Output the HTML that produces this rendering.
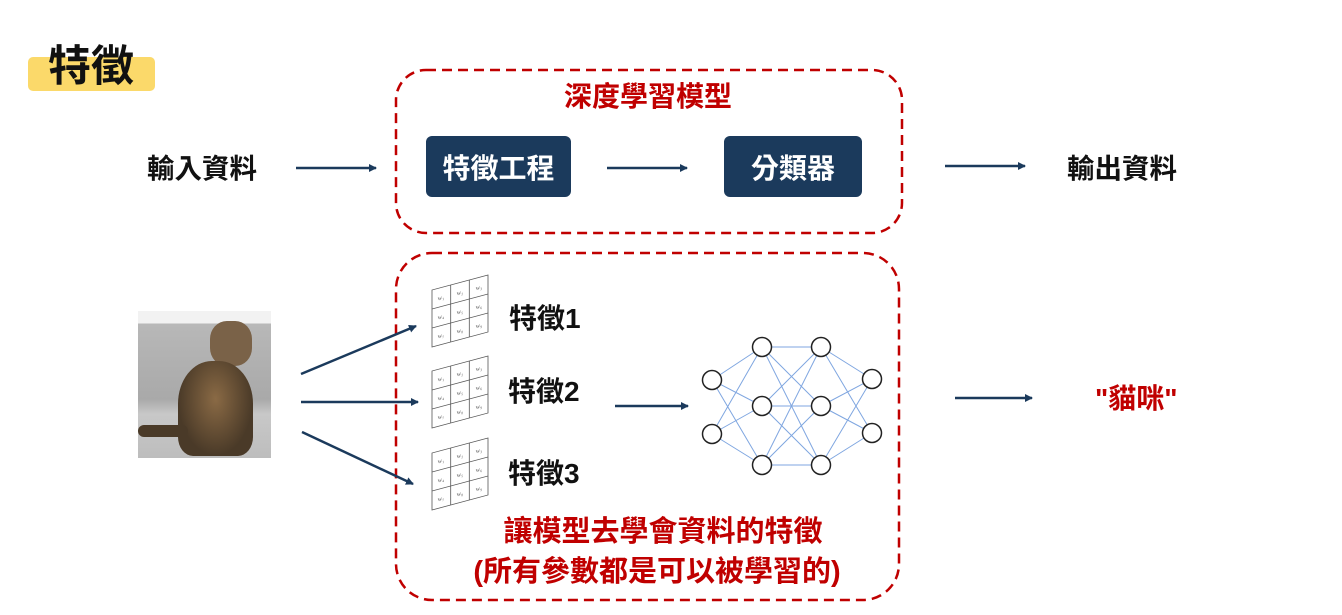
<!DOCTYPE html>
<html><head><meta charset="utf-8"><style>
body{margin:0;width:1342px;height:615px;background:#fff;position:relative;overflow:hidden;font-family:"Liberation Sans","Noto Sans CJK TC",sans-serif}
.t{position:absolute;font-weight:bold;white-space:nowrap;line-height:1}
.c{transform:translateX(-50%)}
.box{position:absolute;background:#1b3a5c;color:#fff;border-radius:6px;font-weight:bold;font-size:28px;display:flex;align-items:center;justify-content:center}
</style></head><body>
<div style="position:absolute;left:28px;top:57px;width:127px;height:34px;background:#fbd96a;border-radius:5px"></div>
<div class="t" style="left:48px;top:46px;font-size:43px;color:#111">特徵</div>
<div class="t c" style="left:648px;top:83px;font-size:28px;color:#c00000">深度學習模型</div>
<div class="t" style="left:147px;top:155px;font-size:27.5px;color:#111">輸入資料</div>
<div class="t" style="left:1067px;top:155px;font-size:27.5px;color:#111">輸出資料</div>
<div class="box" style="left:426px;top:136px;width:145px;height:61px">特徵工程</div>
<div class="box" style="left:724px;top:136px;width:138px;height:61px">分類器</div>
<div class="t" style="left:509px;top:305px;font-size:28px;color:#111">特徵1</div>
<div class="t" style="left:508px;top:378px;font-size:28px;color:#111">特徵2</div>
<div class="t" style="left:508px;top:460px;font-size:28px;color:#111">特徵3</div>
<div class="t" style="left:1095px;top:385px;font-size:28px;color:#c00000">"貓咪"</div>
<div class="t c" style="left:663px;top:518px;font-size:29px;color:#c00000">讓模型去學會資料的特徵</div>
<div class="t c" style="left:657px;top:558px;font-size:29px;color:#c00000">(所有參數都是可以被學習的)</div>
<div style="position:absolute;left:138px;top:311px;width:133px;height:147px;background:linear-gradient(180deg,#f2f2f2 0,#f2f2f2 8%,#b8b8b8 9%,#a9a9a9 60%,#c8c8c8 70%,#bdbdbd 100%)">
<div style="position:absolute;left:72px;top:10px;width:42px;height:45px;border-radius:40%;background:#7a6248"></div>
<div style="position:absolute;left:40px;top:50px;width:75px;height:95px;border-radius:45% 45% 20% 20%;background:radial-gradient(ellipse at 50% 40%,#8a6a45,#4a3a28 70%)"></div>
<div style="position:absolute;left:0;top:114px;width:50px;height:12px;border-radius:6px;background:#4a3a28"></div>
</div>
<svg width="1342" height="615" style="position:absolute;left:0;top:0">
<defs><marker id="a" markerWidth="8" markerHeight="8" refX="7" refY="4" orient="auto" markerUnits="userSpaceOnUse"><path d="M0,0 L8,4 L0,8z" fill="#1b3a5c"/></marker></defs>
<g fill="none" stroke="#c00000" stroke-width="2.5" stroke-dasharray="10,6">
<rect x="396" y="70" width="506" height="163" rx="30"/>
<rect x="396" y="253" width="503" height="347" rx="36"/>
</g>
<g stroke="#1b3a5c" stroke-width="2.5" marker-end="url(#a)">
<line x1="296" y1="168" x2="376" y2="168"/>
<line x1="607" y1="168" x2="687" y2="168"/>
<line x1="945" y1="166" x2="1025" y2="166"/>
<line x1="301" y1="374" x2="416" y2="326"/>
<line x1="301" y1="402" x2="418" y2="402"/>
<line x1="302" y1="432" x2="413" y2="484"/>
<line x1="615" y1="406" x2="688" y2="406"/>
<line x1="955" y1="398" x2="1032" y2="398"/>
</g>
<g stroke="#7fa6e0" stroke-width="1">
<path d="M712 380L762 347M712 380L762 406M712 380L762 465M712 434L762 347M712 434L762 406M712 434L762 465
M762 347L821 347M762 347L821 406M762 347L821 465M762 406L821 347M762 406L821 406M762 406L821 465M762 465L821 347M762 465L821 406M762 465L821 465
M821 347L872 379M821 347L872 433M821 406L872 379M821 406L872 433M821 465L872 379M821 465L872 433"/>
</g>
<g fill="#fff" stroke="#222" stroke-width="1.5">
<circle cx="712" cy="380" r="9.5"/><circle cx="712" cy="434" r="9.5"/>
<circle cx="762" cy="347" r="9.5"/><circle cx="762" cy="406" r="9.5"/><circle cx="762" cy="465" r="9.5"/>
<circle cx="821" cy="347" r="9.5"/><circle cx="821" cy="406" r="9.5"/><circle cx="821" cy="465" r="9.5"/>
<circle cx="872" cy="379" r="9.5"/><circle cx="872" cy="433" r="9.5"/>
</g>
<g id="g1" transform="translate(432,290) skewY(-15)" font-family="Liberation Serif" font-size="6" fill="#555" stroke="#555" stroke-width="0.8">
<g fill="none"><rect x="0" y="0" width="56" height="57"/><line x1="18.7" y1="0" x2="18.7" y2="57"/><line x1="37.3" y1="0" x2="37.3" y2="57"/><line x1="0" y1="19" x2="56" y2="19"/><line x1="0" y1="38" x2="56" y2="38"/></g>
<g stroke="none" text-anchor="middle"><text x="9" y="12">w₁</text><text x="28" y="12">w₂</text><text x="47" y="12">w₃</text><text x="9" y="31">w₄</text><text x="28" y="31">w₅</text><text x="47" y="31">w₆</text><text x="9" y="50">w₇</text><text x="28" y="50">w₈</text><text x="47" y="50">w₉</text></g>
</g>
<use href="#g1" transform="translate(0,81)"/>
<use href="#g1" transform="translate(0,163)"/>
</svg>
</body></html>
